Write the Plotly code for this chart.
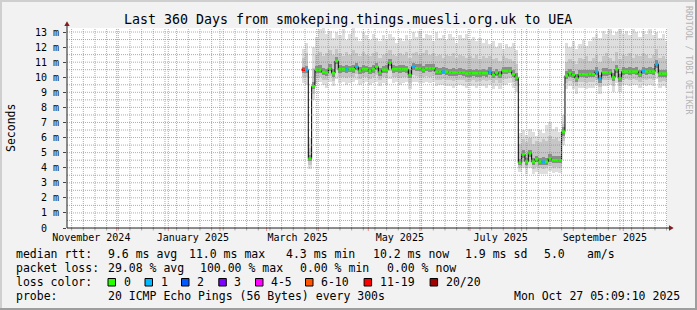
import pandas as pd
import plotly.graph_objects as go

# ---------------- data ----------------
range_start = "2024-11-01 05:09:10"
range_end = "2025-10-27 05:09:10"
bin_start = "2025-03-22"
bin_days = 2

median_ms = [
    10.5, 10.5, 4.6, 9.4, 10.5, 10.5, 10.35, 10.3, 10.6, 10.27,
    11.08, 10.53, 10.53, 10.53, 10.53, 10.53, 10.7, 10.42, 10.53, 10.53,
    10.4, 10.53, 10.7, 10.31, 10.5, 10.5, 10.97, 10.53, 10.53, 10.53,
    10.53, 10.53, 10.15, 10.7, 10.6, 10.6, 10.5, 10.6, 10.6, 10.6,
    10.37, 10.37, 10.37, 10.37, 10.31, 10.31, 10.31, 10.31, 10.31, 10.25,
    10.27, 10.27, 10.27, 10.27, 10.27, 10.27, 10.37, 10.15, 10.31, 10.15,
    10.42, 10.42, 10.42, 10.2, 9.97, 4.33, 4.89, 4.4, 4.96, 4.4,
    4.56, 4.4, 4.4, 4.4, 4.62, 4.5, 4.5, 4.5, 6.39, 10.11,
    10.27, 10.15, 9.93, 10.2, 10.2, 10.18, 10.22, 10.2, 10.37, 9.89,
    10.33, 10.33, 10.33, 9.99, 10.53, 9.93, 10.38, 10.38, 10.38, 10.38,
    10.38, 10.2, 10.4, 10.38, 10.38, 10.38, 10.88, 10.24, 10.24, 10.24,
]

loss_pings = [
    12, 1, 0, 0, 0, 0, 0, 0, 0, 0,
    0, 0, 0, 1, 0, 0, 1, 0, 0, 0,
    0, 0, 0, 0, 0, 0, 0, 0, 0, 0,
    0, 0, 0, 1, 0, 0, 0, 0, 0, 0,
    0, 0, 1, 0, 0, 0, 0, 0, 0, 0,
    0, 0, 0, 0, 0, 0, 1, 0, 0, 0,
    0, 0, 0, 0, 0, 0, 0, 0, 0, 0,
    0, 0, 1, 0, 0, 0, 0, 0, 0, 0,
    0, 0, 0, 0, 0, 0, 0, 0, 1, 1,
    0, 0, 0, 0, 0, 0, 0, 0, 0, 0,
    0, 0, 1, 0, 0, 0, 1, 0, 0, 0,
]

smoke_max = [
    11.9, 12.3, 6.0, 12.0, 12.7, 13.2, 13.3, 12.9, 13.1, 12.6,
    13.0, 12.8, 13.2, 12.5, 12.9, 13.3, 12.7, 12.4, 13.0, 12.8,
    12.5, 12.9, 12.6, 12.4, 12.8, 12.5, 12.9, 12.7, 12.3, 12.6,
    12.4, 12.8, 12.5, 13.0, 12.7, 13.1, 12.6, 12.9, 12.8, 12.4,
    13.0, 12.6, 12.8, 12.5, 12.9, 12.7, 12.3, 12.8, 12.6, 12.9,
    12.5, 12.7, 12.4, 12.6, 12.3, 12.5, 12.2, 12.4, 12.0, 12.3,
    11.9, 12.2, 12.0, 12.3, 11.8, 6.3, 6.5, 6.2, 6.6, 6.4,
    6.1, 6.5, 6.3, 6.8, 7.0, 6.6, 6.7, 6.4, 7.5, 12.3,
    12.0, 12.4, 11.9, 12.2, 12.5, 12.1, 12.4, 12.7, 12.9, 12.6,
    13.1, 12.9, 13.2, 12.8, 13.0, 13.2, 12.9, 13.1, 12.8, 13.2,
    13.0, 12.7, 13.1, 12.9, 13.2, 12.8, 13.0, 12.6, 12.9, 12.4,
]

smoke_p90 = [
    11.3, 11.6, 5.3, 10.6, 11.5, 11.7, 11.4, 11.6, 11.8, 11.5,
    11.9, 11.6, 11.4, 11.7, 11.5, 11.8, 11.6, 11.4, 11.7, 11.5,
    11.4, 11.6, 11.7, 11.3, 11.5, 11.6, 11.8, 11.5, 11.4, 11.6,
    11.5, 11.7, 11.3, 11.6, 11.7, 11.5, 11.6, 11.8, 11.5, 11.6,
    11.4, 11.5, 11.3, 11.5, 11.4, 11.6, 11.3, 11.5, 11.4, 11.3,
    11.4, 11.3, 11.5, 11.2, 11.4, 11.3, 11.4, 11.2, 11.3, 11.1,
    11.4, 11.3, 11.2, 11.1, 10.9, 5.6, 5.9, 5.7, 6.0, 5.6,
    5.8, 5.7, 5.9, 5.8, 6.1, 5.9, 6.0, 5.8, 6.9, 11.0,
    11.2, 11.1, 10.9, 11.3, 11.2, 11.4, 11.1, 11.3, 11.5, 11.0,
    11.4, 11.6, 11.3, 11.1, 11.7, 11.2, 11.5, 11.4, 11.6, 11.3,
    11.5, 11.4, 11.6, 11.5, 11.3, 11.5, 11.9, 11.3, 11.4, 11.2,
]

smoke_p75 = [
    10.7, 10.75, 4.85, 9.7, 10.75, 10.8, 10.6, 10.55, 10.85, 10.55,
    11.35, 10.8, 10.75, 10.8, 10.75, 10.8, 10.95, 10.7, 10.8, 10.75,
    10.65, 10.8, 10.95, 10.6, 10.75, 10.8, 11.2, 10.8, 10.75, 10.8,
    10.8, 10.75, 10.45, 10.95, 10.85, 10.9, 10.75, 10.85, 10.9, 10.85,
    10.65, 10.6, 10.65, 10.6, 10.55, 10.6, 10.55, 10.6, 10.55, 10.5,
    10.55, 10.5, 10.55, 10.5, 10.55, 10.5, 10.65, 10.4, 10.55, 10.4,
    10.7, 10.65, 10.7, 10.45, 10.25, 4.6, 5.15, 4.65, 5.2, 4.65,
    4.8, 4.65, 4.7, 4.65, 4.9, 4.75, 4.8, 4.75, 6.7, 10.4,
    10.55, 10.4, 10.2, 10.45, 10.5, 10.45, 10.5, 10.45, 10.65, 10.15,
    10.6, 10.6, 10.55, 10.25, 10.8, 10.2, 10.65, 10.6, 10.65, 10.6,
    10.65, 10.45, 10.65, 10.6, 10.65, 10.6, 11.15, 10.5, 10.5, 10.45,
]

smoke_p25 = [
    10.3, 10.3, 4.45, 9.2, 10.3, 10.3, 10.15, 10.1, 10.4, 10.05,
    10.85, 10.3, 10.35, 10.3, 10.35, 10.3, 10.5, 10.2, 10.3, 10.35,
    10.2, 10.3, 10.5, 10.1, 10.3, 10.3, 10.75, 10.3, 10.35, 10.3,
    10.35, 10.3, 9.95, 10.5, 10.4, 10.4, 10.3, 10.4, 10.35, 10.4,
    10.15, 10.15, 10.2, 10.15, 10.1, 10.1, 10.1, 10.15, 10.1, 10.05,
    10.05, 10.1, 10.05, 10.05, 10.1, 10.05, 10.15, 9.95, 10.1, 9.95,
    10.2, 10.2, 10.25, 10.0, 9.75, 4.15, 4.65, 4.2, 4.7, 4.2,
    4.35, 4.2, 4.2, 4.2, 4.4, 4.3, 4.3, 4.3, 6.1, 9.9,
    10.05, 9.95, 9.7, 10.0, 10.0, 9.95, 10.0, 10.0, 10.15, 9.65,
    10.1, 10.1, 10.15, 9.75, 10.3, 9.7, 10.15, 10.2, 10.15, 10.2,
    10.15, 10.0, 10.2, 10.15, 10.2, 10.15, 10.6, 10.0, 10.05, 10.0,
]

smoke_p10 = [
    10.0, 10.0, 4.2, 8.9, 9.95, 10.05, 9.85, 9.8, 10.1, 9.75,
    10.5, 10.0, 10.05, 9.95, 10.0, 10.05, 10.2, 9.9, 10.0, 10.05,
    9.9, 10.0, 10.15, 9.8, 10.0, 9.95, 10.4, 10.0, 10.05, 9.95,
    10.0, 10.05, 9.65, 10.15, 10.1, 10.05, 10.0, 10.1, 10.05, 10.1,
    9.85, 9.85, 9.9, 9.8, 9.8, 9.75, 9.8, 9.85, 9.8, 9.7,
    9.75, 9.8, 9.7, 9.75, 9.8, 9.75, 9.85, 9.65, 9.8, 9.6,
    9.9, 9.9, 9.95, 9.7, 9.45, 3.95, 4.35, 3.95, 4.4, 3.9,
    4.05, 3.95, 3.9, 3.95, 4.1, 4.0, 4.05, 4.0, 5.8, 9.6,
    9.75, 9.65, 9.4, 9.7, 9.7, 9.65, 9.7, 9.7, 9.85, 9.35,
    9.8, 9.8, 9.85, 9.45, 10.0, 9.4, 9.85, 9.9, 9.85, 9.9,
    9.85, 9.7, 9.9, 9.85, 9.9, 9.85, 10.3, 9.7, 9.75, 9.7,
]

smoke_min = [
    9.6, 9.5, 3.9, 8.5, 9.6, 9.7, 9.5, 9.3, 9.7, 9.4,
    9.9, 9.6, 9.7, 9.5, 9.6, 9.7, 9.8, 9.5, 9.6, 9.7,
    9.5, 9.6, 9.7, 9.4, 9.6, 9.5, 9.9, 9.6, 9.7, 9.5,
    9.6, 9.7, 9.2, 9.7, 9.7, 9.6, 9.6, 9.7, 9.6, 9.7,
    9.4, 9.5, 9.5, 9.4, 9.4, 9.3, 9.4, 9.5, 9.4, 9.3,
    9.4, 9.4, 9.3, 9.4, 9.4, 9.3, 9.5, 9.2, 9.4, 9.2,
    9.5, 9.5, 9.6, 9.3, 9.0, 3.7, 4.0, 3.6, 4.0, 3.55,
    3.7, 3.6, 3.55, 3.6, 3.75, 3.65, 3.7, 3.65, 5.5, 9.2,
    9.4, 9.2, 8.9, 9.3, 9.3, 9.2, 9.3, 9.3, 9.5, 8.9,
    9.4, 9.4, 9.5, 9.0, 9.6, 9.0, 9.5, 9.5, 9.4, 9.5,
    9.5, 9.3, 9.5, 9.4, 9.5, 9.4, 9.9, 9.3, 9.4, 9.3,
]

x_label_dates = ["2024-11-15 19:00", "2025-01-15 17:00", "2025-03-19 14:00",
                 "2025-05-19 22:00", "2025-07-19 10:00", "2025-09-19 22:00"]
x_label_text = ["November 2024", "January 2025", "March 2025",
                "May 2025", "July 2025", "September 2025"]
y_tick_vals = [0, 1, 2, 3, 4, 5, 6, 7, 8, 9, 10, 11, 12, 13]
y_tick_text = ["0\u00a0\u00a0", "1 m", "2 m", "3 m", "4 m", "5 m", "6 m",
               "7 m", "8 m", "9 m", "10 m", "11 m", "12 m", "13 m"]

loss_names = ["0", "1", "2", "3", "4-5", "6-10", "11-19", "20/20"]
loss_low = [0, 1, 2, 3, 4, 6, 11, 20]
loss_high = [0, 1, 2, 3, 5, 10, 19, 20]
loss_colors = ["#26ff00", "#00b8ff", "#0059ff", "#7e00ff",
               "#ff00ff", "#ff5500", "#ff0000", "#a10000"]

title_text = "Last 360 Days from smokeping.things.muesli.org.uk to UEA"
rtt_stats = ["9.6 ms avg", "11.0 ms max", "4.3 ms min", "10.2 ms now", "1.9 ms sd", "5.0", "am/s"]
loss_stats = ["29.08 % avg", "100.00 % max", "0.00 % min", "0.00 % now"]
probe_text = "20 ICMP Echo Pings (56 Bytes) every 300s"
stamp_text = "Mon Oct 27 05:09:10 2025"

# ---------------- layout helpers ----------------
W, H = 697, 310
L, T, PW, PH = 67, 28, 600, 200
MONO = "DejaVu Sans Mono"


def px(x):
    return (x - L) / PW


def py(y):
    return (T + PH - y) / PH


bins = pd.date_range(bin_start, periods=len(median_ms), freq=f"{bin_days}D")
step = pd.Timedelta(days=bin_days)
centers = bins + step / 2
bar_w = bin_days * 86400000

fig = go.Figure()


def band(lo, hi, color):
    fig.add_trace(go.Bar(
        x=centers, y=[h - l for l, h in zip(lo, hi)], base=lo, width=bar_w,
        marker=dict(color=color, line=dict(width=0)),
        hoverinfo="skip", showlegend=False))


band(smoke_min, smoke_max, "#dedede")
band(smoke_p10, smoke_p90, "#c6c6c6")
band(smoke_p25, smoke_p75, "#8c8c8c")

# median: black step line
fig.add_trace(go.Scatter(
    x=list(bins) + [bins[-1] + step], y=median_ms + [median_ms[-1]],
    mode="lines", line=dict(color="#000000", width=1, shape="hv"),
    hoverinfo="skip", showlegend=False))

# loss-coloured median segments
for lo_c, hi_c, col in zip(loss_low, loss_high, loss_colors):
    xs, ys = [], []
    for b, m, lp in zip(bins, median_ms, loss_pings):
        if lo_c <= lp <= hi_c:
            xs += [b, b + step, None]
            ys += [m, m, None]
    if xs:
        fig.add_trace(go.Scatter(x=xs, y=ys, mode="lines",
                                 line=dict(color=col, width=2.5),
                                 hoverinfo="skip", showlegend=False))

shapes = []
GRID = "rgba(143,143,143,0.75)"
MGRID = "rgba(222,79,79,0.6)"
DASH = "1px,1px"

# horizontal grid
for k in range(1, 27):
    v = k * 0.5
    col = MGRID if k % 2 == 0 else GRID
    shapes.append(dict(type="line", xref="paper", yref="y", x0=0, x1=1, y0=v, y1=v,
                       line=dict(color=col, width=1, dash=DASH), layer="above"))

# vertical grid: weeks (Mondays) and months
r0, r1 = pd.Timestamp(range_start), pd.Timestamp(range_end)
months = [d for d in pd.date_range("2024-11-01", "2025-11-01", freq="MS") if r0 < d < r1]
weeks = [d for d in pd.date_range("2024-11-04", "2025-10-27", freq="7D")
         if r0 < d < r1 and d not in months]
for d in weeks:
    shapes.append(dict(type="line", xref="x", yref="paper", x0=d, x1=d, y0=0, y1=1,
                       line=dict(color=GRID, width=1, dash=DASH), layer="above"))
    shapes.append(dict(type="line", xref="x", yref="paper", x0=d, x1=d, y0=0, y1=py(230.5),
                       line=dict(color=GRID, width=1), layer="above"))
for d in months:
    shapes.append(dict(type="line", xref="x", yref="paper", x0=d, x1=d, y0=0, y1=1,
                       line=dict(color=MGRID, width=1, dash=DASH), layer="above"))
    shapes.append(dict(type="line", xref="x", yref="paper", x0=d, x1=d, y0=0, y1=py(231),
                       line=dict(color=MGRID, width=1), layer="above"))

# axes + arrows
AX = "#1f1f1f"
AR = "#7f1f1f"
shapes.append(dict(type="line", xref="paper", yref="paper", x0=0, x1=0, y0=0, y1=py(23),
                   line=dict(color=AX, width=1), layer="above"))
shapes.append(dict(type="line", xref="paper", yref="paper", x0=0, x1=px(671), y0=0, y1=0,
                   line=dict(color=AX, width=1), layer="above"))
shapes.append(dict(type="path", xref="paper", yref="paper",
                   path=f"M {px(67)} {py(21.3)} L {px(64.3)} {py(26)} L {px(69.7)} {py(26)} Z",
                   fillcolor=AR, line=dict(width=0), layer="above"))
shapes.append(dict(type="path", xref="paper", yref="paper",
                   path=f"M {px(673.7)} {py(228)} L {px(669)} {py(225.3)} L {px(669)} {py(230.7)} Z",
                   fillcolor=AR, line=dict(width=0), layer="above"))

# frame
shapes.append(dict(type="rect", xref="paper", yref="paper", x0=px(0), x1=px(W), y0=py(0), y1=py(2),
                   fillcolor="#cfcfcf", line=dict(width=0), layer="above"))
shapes.append(dict(type="rect", xref="paper", yref="paper", x0=px(0), x1=px(2), y0=py(0), y1=py(H),
                   fillcolor="#cfcfcf", line=dict(width=0), layer="above"))
shapes.append(dict(type="rect", xref="paper", yref="paper", x0=px(0), x1=px(W), y0=py(H - 2), y1=py(H),
                   fillcolor="#9e9e9e", line=dict(width=0), layer="above"))
shapes.append(dict(type="rect", xref="paper", yref="paper", x0=px(W - 2), x1=px(W), y0=py(0), y1=py(H),
                   fillcolor="#9e9e9e", line=dict(width=0), layer="above"))

annotations = []


def ann(text, x, y, size, xanchor="left", color="#000000", angle=0):
    annotations.append(dict(text=text, x=px(x), y=py(y), xref="paper", yref="paper",
                            xanchor=xanchor, yanchor="middle", showarrow=False,
                            borderpad=0, textangle=angle,
                            font=dict(family=MONO, size=size, color=color)))


ann(title_text, 348, 19, 13.3, xanchor="center")
ann("Seconds", 11, 128, 11.5, xanchor="center", angle=-90)
ann("RRDTOOL / TOBI OETIKER", 689, 60, 8.2, xanchor="center", color="#b4b4b4", angle=90)

LS = 11.5
row_y = [254.3, 268.3, 282.3, 296.0]
ann("median rtt:", 15.3, row_y[0], LS)
for t, x in zip(rtt_stats, [106.5, 187.6, 285.2, 371.6, 464.0, 542.5, 585.6]):
    ann(t, x, row_y[0], LS)
ann("packet loss:", 15.3, row_y[1], LS)
for t, x in zip(loss_stats, [106.5, 198.5, 299.2, 385.5]):
    ann(t, x, row_y[1], LS)
ann("loss color:", 15.3, row_y[2], LS)
label_x = [122.5, 159.5, 196.0, 233.3, 270.0, 320.0, 378.6, 444.6]
for name, col, x in zip(loss_names, loss_colors, label_x):
    ann(name, x, row_y[2], LS)
    bx = x - 14.5
    shapes.append(dict(type="rect", xref="paper", yref="paper", x0=px(bx), x1=px(bx + 7.5),
                       y0=py(278.5), y1=py(286), fillcolor=col,
                       line=dict(color="#000000", width=1), layer="above"))
ann("probe:", 15.3, row_y[3], LS)
ann(probe_text, 106.5, row_y[3], LS)
ann(stamp_text, 680.8, row_y[3], LS, xanchor="right")

fig.update_layout(
    width=W, height=H,
    margin=dict(l=L, r=W - L - PW, t=T, b=H - T - PH, pad=0),
    paper_bgcolor="#f2f2f2", plot_bgcolor="#ffffff",
    barmode="overlay", bargap=0, hovermode=False, showlegend=False,
    shapes=shapes, annotations=annotations,
    xaxis=dict(type="date", range=[range_start, range_end], showgrid=False, zeroline=False,
               showline=False, tickmode="array", tickvals=x_label_dates, ticktext=x_label_text,
               ticks="", tickfont=dict(family=MONO, size=10, color="#000000"),
               ticklabelstandoff=2, fixedrange=True),
    yaxis=dict(range=[0, 200 / 15.075], showgrid=False, zeroline=False, showline=False,
               tickmode="array", tickvals=y_tick_vals, ticktext=y_tick_text,
               ticks="outside", ticklen=3, tickcolor="#444444", tickwidth=1,
               tickfont=dict(family=MONO, size=10, color="#000000"),
               ticklabelstandoff=2, fixedrange=True),
)

fig.write_html("out.html")
